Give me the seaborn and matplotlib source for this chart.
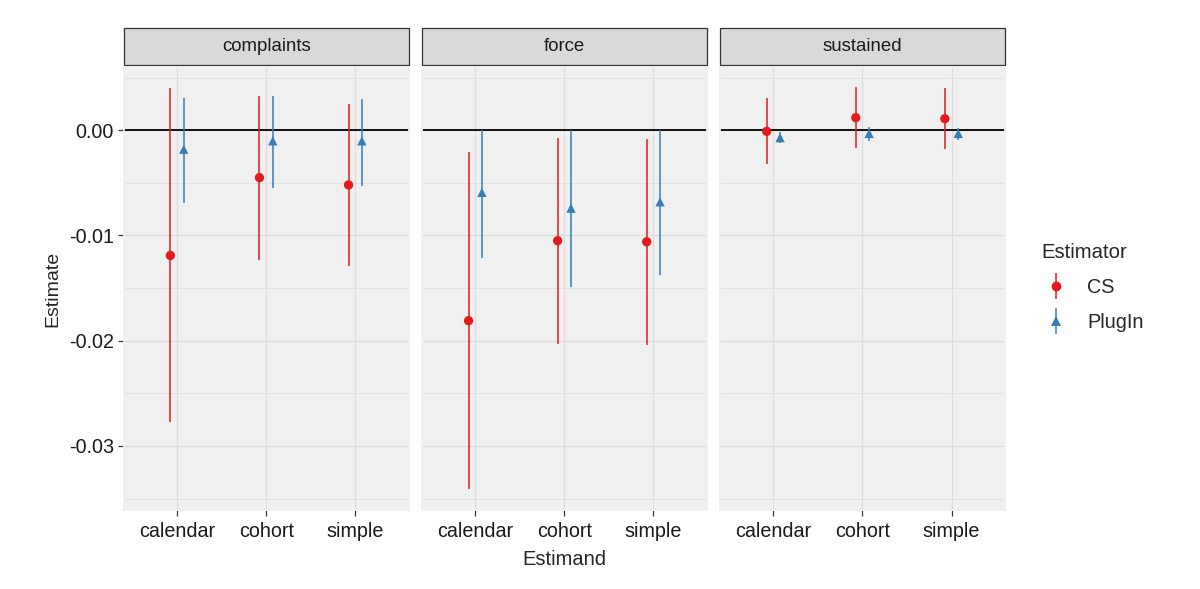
import matplotlib
matplotlib.use("Agg")
import matplotlib.pyplot as plt
import numpy as np
import pandas as pd
import seaborn as sns
from matplotlib.lines import Line2D
from matplotlib.patches import Rectangle
from matplotlib.legend_handler import HandlerTuple

# Data
outcomes = ["complaints", "force", "sustained"]
estimands = ["calendar", "cohort", "simple"]
estimators = ["CS", "PlugIn"]

cs_est = {"complaints": [-0.0119, -0.0045, -0.0052],
          "force": [-0.0181, -0.0105, -0.0106],
          "sustained": [-0.0001, 0.0012, 0.0011]}
cs_lo = {"complaints": [-0.0277, -0.0123, -0.0129],
         "force": [-0.0341, -0.0203, -0.0204],
         "sustained": [-0.0032, -0.0017, -0.0018]}
cs_hi = {"complaints": [0.0040, 0.0033, 0.0025],
         "force": [-0.0021, -0.0007, -0.0008],
         "sustained": [0.0031, 0.0041, 0.0040]}

pi_est = {"complaints": [-0.0018, -0.0010, -0.0010],
          "force": [-0.0059, -0.0074, -0.0068],
          "sustained": [-0.0007, -0.0003, -0.0003]}
pi_lo = {"complaints": [-0.0069, -0.0055, -0.0053],
         "force": [-0.0121, -0.0149, -0.0138],
         "sustained": [-0.0012, -0.0010, -0.0009]}
pi_hi = {"complaints": [0.0031, 0.0033, 0.0030],
         "force": [0.0000, 0.0000, 0.0000],
         "sustained": [-0.0002, 0.0003, 0.0002]}

rows = []
for o in outcomes:
    for i, e in enumerate(estimands):
        rows.append((o, e, "CS", cs_est[o][i], cs_lo[o][i], cs_hi[o][i]))
        rows.append((o, e, "PlugIn", pi_est[o][i], pi_lo[o][i], pi_hi[o][i]))
df = pd.DataFrame(rows, columns=["outcome", "estimand", "estimator", "est", "lo", "hi"])

palette = {"CS": "#E41A1C", "PlugIn": "#377EB8"}
markers = {"CS": "o", "PlugIn": "^"}
dodge = {"CS": -0.075, "PlugIn": 0.075}
df["x"] = df["estimand"].map({e: i for i, e in enumerate(estimands)}) + df["estimator"].map(dodge)

sns.set_theme(style="white", rc={"axes.facecolor": "#F0F0F0", "axes.edgecolor": "#F0F0F0"})
plt.rcParams["font.family"] = ["Liberation Sans", "DejaVu Sans"]

g = sns.FacetGrid(df, col="outcome", col_order=outcomes, sharey=True, despine=False)
g.figure.set_size_inches(12, 5.89)


def draw(data, **kws):
    ax = plt.gca()
    ax.axhline(0, color="black", lw=1.3, zorder=2)
    for est, sub in data.groupby("estimator"):
        ax.vlines(sub["x"], sub["lo"], sub["hi"], color=palette[est], lw=1.1, zorder=3)
    sns.scatterplot(data=data, x="x", y="est", hue="estimator", style="estimator",
                    palette=palette, markers=markers, s=45, linewidth=0,
                    legend=False, ax=ax, zorder=4)


g.map_dataframe(draw)
g.figure.subplots_adjust(left=0.103, right=0.8375, bottom=0.134, top=0.886, wspace=0.046)

for ax, o in zip(g.axes.flat, outcomes):
    ax.set_xlim(-0.6, 2.6)
    ax.set_ylim(-0.0361, 0.0060)
    ax.set_xticks(range(len(estimands)))
    ax.set_xticklabels(estimands)
    ax.set_yticks([-0.03, -0.02, -0.01, 0.0])
    ax.set_yticks(np.arange(-0.035, 0.0051, 0.01), minor=True)
    ax.yaxis.set_major_formatter(matplotlib.ticker.FuncFormatter(lambda v, p: f"{v:.2f}"))
    ax.grid(True, which="major", color="#DCDCDC", lw=0.9)
    ax.grid(True, which="minor", axis="y", color="#E2E2E2", lw=0.7)
    ax.set_axisbelow(True)
    ax.tick_params(axis="both", which="major", length=4, width=0.9, color="#333333",
                   labelsize=14.2, labelcolor="#1A1A1A", pad=3, bottom=True, left=True)
    ax.tick_params(axis="x", which="major", pad=4.5)
    ax.tick_params(axis="y", which="minor", length=0)
    ax.set_title("")
    ax.set_xlabel("")
    ax.set_ylabel("")
    ax.add_patch(Rectangle((0, 1.005), 1, 0.083, transform=ax.transAxes, clip_on=False,
                           facecolor="#D9D9D9", edgecolor="#333333", lw=0.9))
    ax.text(0.5, 1.046, o, transform=ax.transAxes, ha="center", va="center",
            fontsize=13.4, color="#1A1A1A")

for ax in g.axes.flat[1:]:
    ax.tick_params(axis="y", left=False, labelleft=False)

g.axes.flat[0].set_ylabel("Estimate", fontsize=14, labelpad=5)
g.axes.flat[1].set_xlabel("Estimand", fontsize=14.5, labelpad=6.5)

handles = []
for est in estimators:
    bar = Line2D([], [], marker="|", markersize=19, markeredgewidth=1.1,
                 color=palette[est], linestyle="none")
    pt = Line2D([], [], marker=markers[est], markersize=7, color=palette[est],
                linestyle="none", markeredgewidth=0)
    handles.append((bar, pt))

g.figure.legend(handles, estimators, title="Estimator", loc="upper left",
                bbox_to_anchor=(0.853, 0.618), frameon=False, fontsize=14.3,
                title_fontsize=14.6, handler_map={tuple: HandlerTuple(ndivide=1)},
                handlelength=1.5, labelspacing=0.8, alignment="left")

g.figure.savefig("out.png", dpi=100)
